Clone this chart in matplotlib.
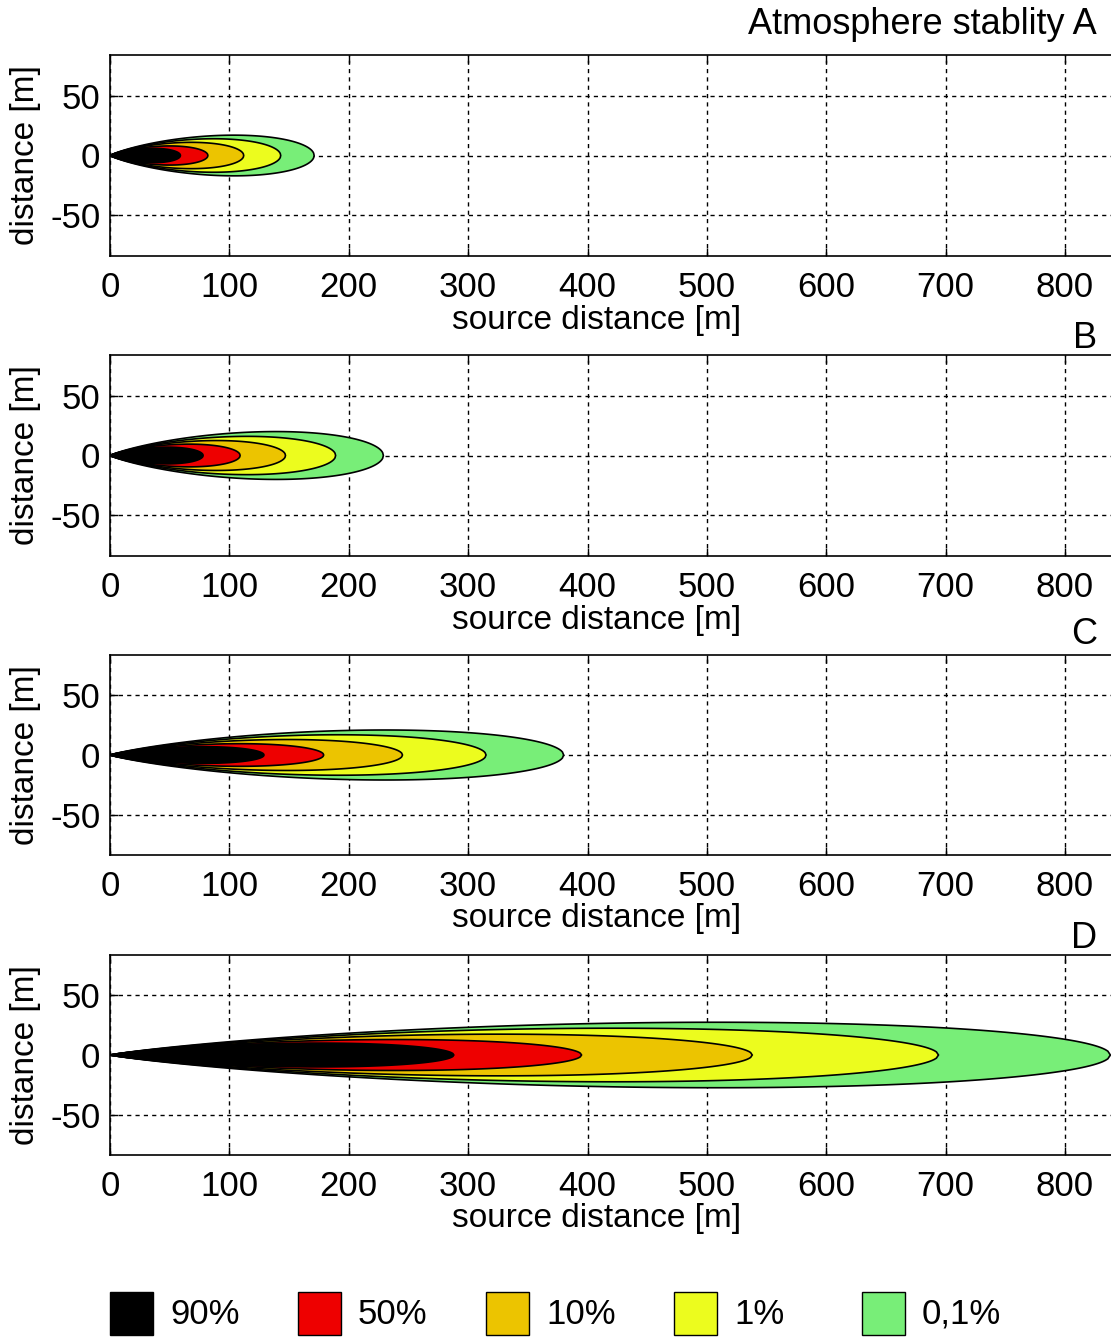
import numpy as np
import matplotlib
matplotlib.use("Agg")
import matplotlib.pyplot as plt
from matplotlib.patches import Rectangle

plt.rcParams['font.family'] = ['Liberation Sans', 'DejaVu Sans']
plt.rcParams['axes.unicode_minus'] = False

# stability classes and concentration levels
stability = ['A', 'B', 'C', 'D']
levels = ['90%', '50%', '10%', '1%', '0,1%']
level_colors = ['#000000', '#ee0000', '#ecc400', '#ecfc1e', '#78ee78']

# plume reach along the wind [m] for each level (90% .. 0,1%)
plume_length = {
    'A': [59, 82, 112, 143, 171],
    'B': [78, 109, 147, 189, 229],
    'C': [129, 179, 245, 315, 380],
    'D': [288, 395, 538, 694, 838],
}
# max half width of the plume [m]
plume_halfwidth = {
    'A': [6, 8, 11, 14, 17],
    'B': [7, 9.5, 12.5, 16, 20],
    'C': [7, 9.5, 13, 17, 21],
    'D': [10, 13, 17.5, 22.5, 27.5],
}

xticks = [0, 100, 200, 300, 400, 500, 600, 700, 800]
yticks = [-50, 0, 50]

W, H = 1111, 1338
fig = plt.figure(figsize=(W / 100, H / 100), dpi=100)

# axes boxes in pixels: top, bottom
boxes = [(55, 256), (355, 556), (655, 855), (955, 1155)]
titles = ['Atmosphere stablity A', 'B', 'C', 'D']
title_y = [25, 338, 635, 938]
left_px = 110
px_per_m = 955 / 800
xmax = 850
ax_w = xmax * px_per_m


def outline(L, Wmax):
    # teardrop contour of a ground level plume, tip at the source
    t = np.linspace(1e-5, 1, 400)
    g = t * np.sqrt(-np.log(t)) / (np.exp(-0.5) * np.sqrt(0.5))
    x = t * L
    y = Wmax * g
    return np.concatenate([x, x[::-1]]), np.concatenate([y, -y[::-1]])


for k, s in enumerate(stability):
    top, bot = boxes[k]
    hgt = bot - top
    ax = fig.add_axes([left_px / W, 1 - bot / H, ax_w / W, hgt / H])
    ax.set_xlim(0, xmax)
    ax.set_ylim(-84, 84)

    # outermost level first, so inner ones sit on top
    for i in range(len(levels) - 1, -1, -1):
        xs, ys = outline(plume_length[s][i], plume_halfwidth[s][i])
        ax.fill(xs, ys, facecolor=level_colors[i], edgecolor='black', linewidth=1.2, zorder=2)

    ax.set_xticks(xticks)
    ax.set_yticks(yticks)
    ax.grid(True, color='black', linestyle=(0, (3, 3)), linewidth=1.0)
    ax.set_axisbelow(True)
    ax.tick_params(direction='in', length=6, width=1, labelsize=25, top=True, right=True)
    ax.tick_params(axis='x', pad=11)
    ax.tick_params(axis='y', pad=7)
    for sp in ax.spines.values():
        sp.set_linewidth(1.2)

    ax.set_xlabel('source distance [m]', fontsize=24)
    ax.xaxis.label.set_va('center')
    ax.xaxis.set_label_coords((597 - left_px) / ax_w, -64 / hgt)
    ax.set_ylabel('distance [m]', fontsize=24)
    ax.yaxis.label.set_va('center')
    ax.yaxis.set_label_coords((26 - left_px) / ax_w, 0.5)

    fig.text(1097 / W, 1 - title_y[k] / H, titles[k], ha='right', va='center', fontsize=26)

# legend row at the bottom
lax = fig.add_axes([0, 0, 1, 1], facecolor='none')
lax.set_xlim(0, W)
lax.set_ylim(H, 0)
lax.axis('off')
for i, lab in enumerate(levels):
    x0 = 110 + i * 188
    lax.add_patch(Rectangle((x0, 1292), 43, 43, facecolor=level_colors[i], edgecolor='black', linewidth=1))
    lax.text(x0 + 60, 1314, lab, ha='left', va='center', fontsize=25)

fig.savefig('out.png', dpi=100)
